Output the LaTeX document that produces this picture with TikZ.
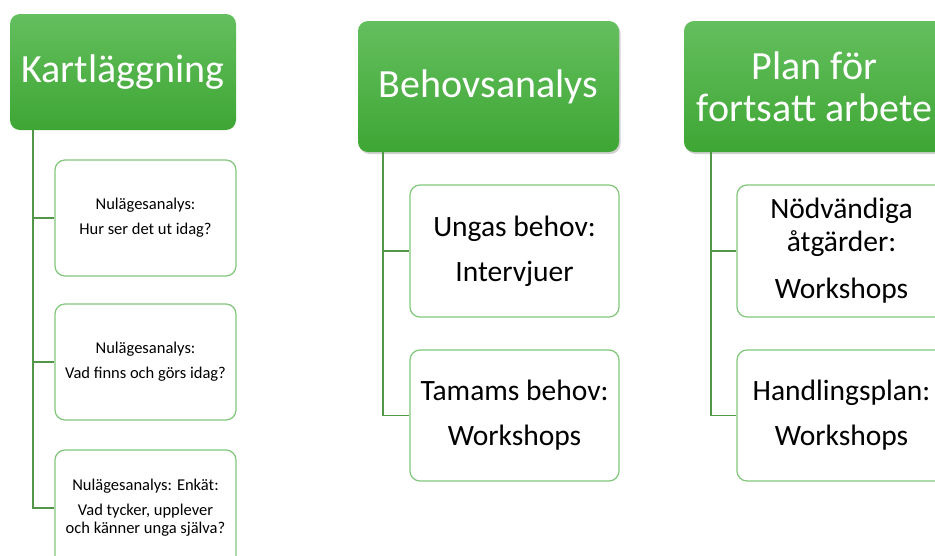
\documentclass[tikz,border=0pt]{standalone}
\usepackage{fontspec}
\setmainfont{Carlito}
\usetikzlibrary{shadows}
\definecolor{gtop}{RGB}{100,191,94}
\definecolor{gbot}{RGB}{62,166,52}
\definecolor{cborder}{RGB}{128,199,122}
\definecolor{cline}{RGB}{82,150,72}
\tikzset{
  hdr/.style={rounded corners=10pt, top color=gtop, bottom color=gbot, draw=none,
    text=white, align=center, inner sep=0pt},
  hdrshadow/.style={hdr, drop shadow={shadow xshift=1.5pt, shadow yshift=-2pt, opacity=0.3, fill=black!60}},
  child/.style={rounded corners=10pt, draw=cborder, line width=1.2pt, fill=white,
    text=black, align=center, inner sep=0pt},
  small/.style={font=\fontsize{16.5}{18}\selectfont},
  big/.style={font=\fontsize{29.5}{33}\selectfont},
  conn/.style={draw=cline, line width=1.6pt},
}
\begin{document}
\begin{tikzpicture}[x=1pt,y=-1pt]
\useasboundingbox (0,0) rectangle (935,555);
\clip (0,0) rectangle (935,555);
% column 1
\node[hdr, minimum width=226pt, minimum height=116pt, font=\fontsize{40}{44}\selectfont] (h1) at (123,72) {Kartläggning};
\node[child, small, minimum width=181pt, minimum height=116pt] (c11) at (145.5,218) {Nulägesanalys:\\[7pt]Hur ser det ut idag?};
\node[child, small, minimum width=181pt, minimum height=116pt] (c12) at (145.5,362) {Nulägesanalys:\\[7pt]Vad finns och görs idag?};
\node[child, small, minimum width=181pt, minimum height=116pt] (c13) at (145.5,508) {Nulägesanalys: Enkät:\\[7pt]Vad tycker, upplever\\och känner unga själva?};
\coordinate (t1) at (33,130);
\draw[conn] (t1) |- (c11.west);
\draw[conn] (t1) |- (c12.west);
\draw[conn] (t1) |- (c13.west);
% column 2
\node[hdrshadow, minimum width=261pt, minimum height=131pt, font=\fontsize{40}{42}\selectfont] (h2) at (488.5,86.5) {Behovsanalys};
\node[child, big, minimum width=209pt, minimum height=132pt] (c21) at (514.5,251) {Ungas behov:\\[12pt]Intervjuer};
\node[child, big, minimum width=209pt, minimum height=131pt] (c22) at (514.5,415.5) {Tamams behov:\\[12pt]Workshops};
\coordinate (t2) at (383,152);
\draw[conn] (t2) |- (c21.west);
\draw[conn] (t2) |- (c22.west);
% column 3
\node[hdrshadow, minimum width=261pt, minimum height=131pt, font=\fontsize{40}{42}\selectfont] (h3) at (814.5,86.5) {Plan för\\fortsatt arbete};
\node[child, big, minimum width=209pt, minimum height=132pt] (c31) at (841.5,251) {Nödvändiga\\åtgärder:\\[14pt]Workshops};
\node[child, big, minimum width=209pt, minimum height=131pt] (c32) at (841.5,415.5) {Handlingsplan:\\[12pt]Workshops};
\coordinate (t3) at (711,152);
\draw[conn] (t3) |- (c31.west);
\draw[conn] (t3) |- (c32.west);
\end{tikzpicture}
\end{document}
